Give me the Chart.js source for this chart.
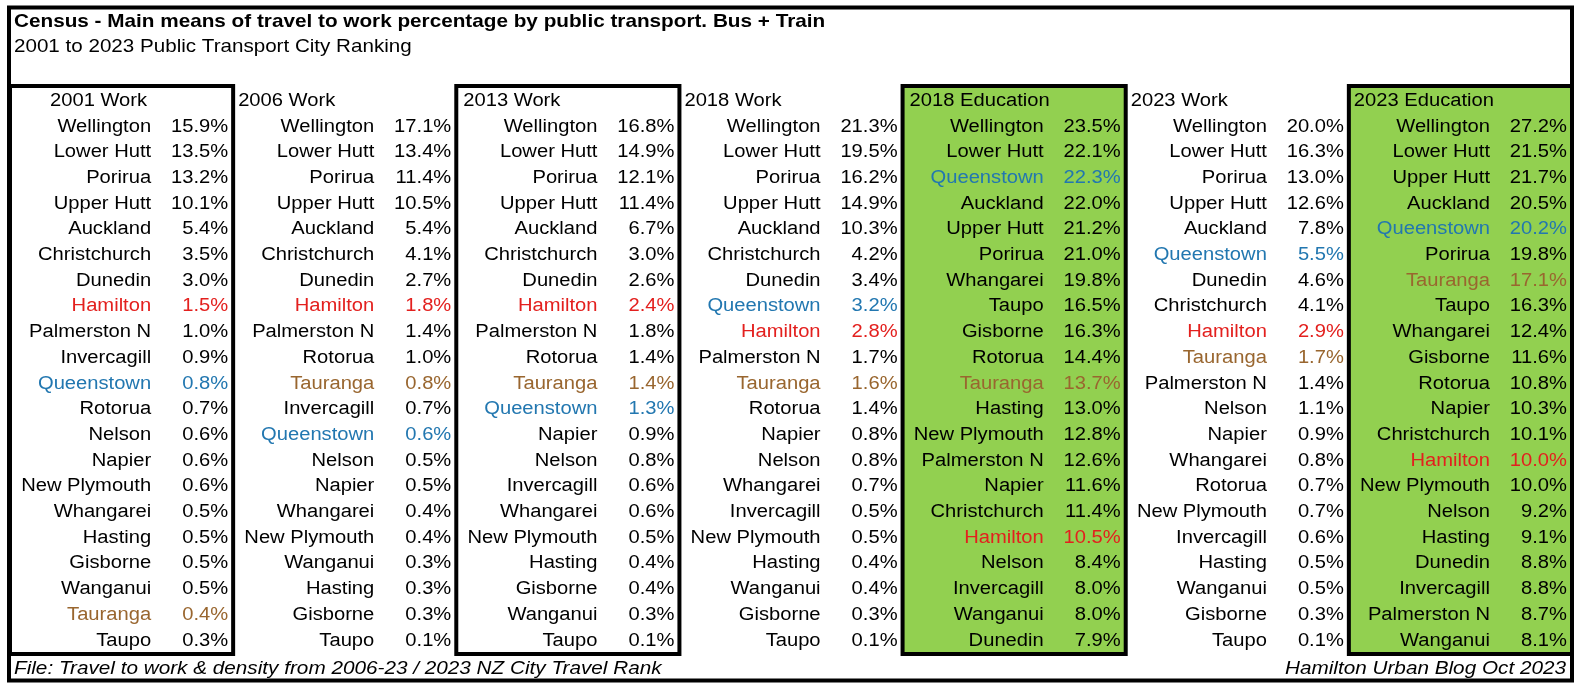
<!DOCTYPE html>
<html>
<head>
<meta charset="utf-8">
<title>Public Transport City Ranking</title>
<script src="https://cdn.jsdelivr.net/npm/chart.js@4.4.0/dist/chart.umd.min.js"></script>
<style>
  html, body { margin: 0; padding: 0; background: #fff; }
  #wrap { width: 1580px; height: 690px; position: relative; }
</style>
</head>
<body>
<div id="wrap"><canvas id="rankChart"></canvas></div>
<script>
// Texts
const chartTitle = 'Census - Main means of travel to work percentage by public transport. Bus + Train';
const chartSubtitle = '2001 to 2023 Public Transport City Ranking';
const footerLeft = 'File: Travel to work & density from 2006-23 / 2023 NZ City Travel Rank';
const footerRight = 'Hamilton Urban Blog Oct 2023';

const columnTitles = ['2001 Work', '2006 Work', '2013 Work', '2018 Work', '2018 Education', '2023 Work', '2023 Education'];

// 2001 Work
const cities2001 = ['Wellington', 'Lower Hutt', 'Porirua', 'Upper Hutt', 'Auckland', 'Christchurch', 'Dunedin', 'Hamilton', 'Palmerston N', 'Invercagill', 'Queenstown', 'Rotorua', 'Nelson', 'Napier', 'New Plymouth', 'Whangarei', 'Hasting', 'Gisborne', 'Wanganui', 'Tauranga', 'Taupo'];
const values2001 = [15.9, 13.5, 13.2, 10.1, 5.4, 3.5, 3.0, 1.5, 1.0, 0.9, 0.8, 0.7, 0.6, 0.6, 0.6, 0.5, 0.5, 0.5, 0.5, 0.4, 0.3];

// 2006 Work
const cities2006 = ['Wellington', 'Lower Hutt', 'Porirua', 'Upper Hutt', 'Auckland', 'Christchurch', 'Dunedin', 'Hamilton', 'Palmerston N', 'Rotorua', 'Tauranga', 'Invercagill', 'Queenstown', 'Nelson', 'Napier', 'Whangarei', 'New Plymouth', 'Wanganui', 'Hasting', 'Gisborne', 'Taupo'];
const values2006 = [17.1, 13.4, 11.4, 10.5, 5.4, 4.1, 2.7, 1.8, 1.4, 1.0, 0.8, 0.7, 0.6, 0.5, 0.5, 0.4, 0.4, 0.3, 0.3, 0.3, 0.1];

// 2013 Work
const cities2013 = ['Wellington', 'Lower Hutt', 'Porirua', 'Upper Hutt', 'Auckland', 'Christchurch', 'Dunedin', 'Hamilton', 'Palmerston N', 'Rotorua', 'Tauranga', 'Queenstown', 'Napier', 'Nelson', 'Invercagill', 'Whangarei', 'New Plymouth', 'Hasting', 'Gisborne', 'Wanganui', 'Taupo'];
const values2013 = [16.8, 14.9, 12.1, 11.4, 6.7, 3.0, 2.6, 2.4, 1.8, 1.4, 1.4, 1.3, 0.9, 0.8, 0.6, 0.6, 0.5, 0.4, 0.4, 0.3, 0.1];

// 2018 Work
const cities2018Work = ['Wellington', 'Lower Hutt', 'Porirua', 'Upper Hutt', 'Auckland', 'Christchurch', 'Dunedin', 'Queenstown', 'Hamilton', 'Palmerston N', 'Tauranga', 'Rotorua', 'Napier', 'Nelson', 'Whangarei', 'Invercagill', 'New Plymouth', 'Hasting', 'Wanganui', 'Gisborne', 'Taupo'];
const values2018Work = [21.3, 19.5, 16.2, 14.9, 10.3, 4.2, 3.4, 3.2, 2.8, 1.7, 1.6, 1.4, 0.8, 0.8, 0.7, 0.5, 0.5, 0.4, 0.4, 0.3, 0.1];

// 2018 Education
const cities2018Edu = ['Wellington', 'Lower Hutt', 'Queenstown', 'Auckland', 'Upper Hutt', 'Porirua', 'Whangarei', 'Taupo', 'Gisborne', 'Rotorua', 'Tauranga', 'Hasting', 'New Plymouth', 'Palmerston N', 'Napier', 'Christchurch', 'Hamilton', 'Nelson', 'Invercagill', 'Wanganui', 'Dunedin'];
const values2018Edu = [23.5, 22.1, 22.3, 22.0, 21.2, 21.0, 19.8, 16.5, 16.3, 14.4, 13.7, 13.0, 12.8, 12.6, 11.6, 11.4, 10.5, 8.4, 8.0, 8.0, 7.9];

// 2023 Work
const cities2023Work = ['Wellington', 'Lower Hutt', 'Porirua', 'Upper Hutt', 'Auckland', 'Queenstown', 'Dunedin', 'Christchurch', 'Hamilton', 'Tauranga', 'Palmerston N', 'Nelson', 'Napier', 'Whangarei', 'Rotorua', 'New Plymouth', 'Invercagill', 'Hasting', 'Wanganui', 'Gisborne', 'Taupo'];
const values2023Work = [20.0, 16.3, 13.0, 12.6, 7.8, 5.5, 4.6, 4.1, 2.9, 1.7, 1.4, 1.1, 0.9, 0.8, 0.7, 0.7, 0.6, 0.5, 0.5, 0.3, 0.1];

// 2023 Education
const cities2023Edu = ['Wellington', 'Lower Hutt', 'Upper Hutt', 'Auckland', 'Queenstown', 'Porirua', 'Tauranga', 'Taupo', 'Whangarei', 'Gisborne', 'Rotorua', 'Napier', 'Christchurch', 'Hamilton', 'New Plymouth', 'Nelson', 'Hasting', 'Dunedin', 'Invercagill', 'Palmerston N', 'Wanganui'];
const values2023Edu = [27.2, 21.5, 21.7, 20.5, 20.2, 19.8, 17.1, 16.3, 12.4, 11.6, 10.8, 10.3, 10.1, 10.0, 10.0, 9.2, 9.1, 8.8, 8.8, 8.7, 8.1];

const columnCities = [cities2001, cities2006, cities2013, cities2018Work, cities2018Edu, cities2023Work, cities2023Edu];
const columnValues = [values2001, values2006, values2013, values2018Work, values2018Edu, values2023Work, values2023Edu];

// colonnes encadrees / surlignees en vert
const boxedColumns = [0, 2, 4, 6];
const greenColumns = [4, 6];

const FONT = '"Liberation Sans", Arial, sans-serif';
const STRETCH = 1.12;
const cityColors = { Hamilton: '#e3201e', Queenstown: '#2277b0', Tauranga: '#99662f' };

function drawText(ctx, txt, x, y, align, font, color) {
  ctx.save();
  ctx.font = font;
  ctx.fillStyle = color;
  ctx.textAlign = align;
  ctx.textBaseline = 'middle';
  ctx.translate(x, y);
  ctx.scale(STRETCH, 1);
  ctx.fillText(txt, 0, 0);
  ctx.restore();
}

const tablePlugin = {
  id: 'censusTable',
  beforeDatasetsDraw(chart) {
    const { ctx, chartArea, scales } = chart;
    ctx.save();
    greenColumns.forEach(c => {
      const l = scales.x.getPixelForValue(c);
      const r = scales.x.getPixelForValue(c + 1);
      ctx.fillStyle = '#92d050';
      ctx.fillRect(l, chartArea.top, r - l, chartArea.bottom - chartArea.top);
    });
    ctx.strokeStyle = '#000';
    ctx.lineWidth = 4;
    boxedColumns.forEach(c => {
      const l = scales.x.getPixelForValue(c);
      const r = scales.x.getPixelForValue(c + 1);
      ctx.strokeRect(l, chartArea.top, r - l, chartArea.bottom - chartArea.top);
    });
    ctx.restore();
  },
  afterDatasetsDraw(chart) {
    const { ctx } = chart;
    const cellFont = '18px ' + FONT;
    const dy = 1.5;
    chart.data.datasets.forEach((ds, di) => {
      const meta = chart.getDatasetMeta(di);
      meta.data.forEach((pt, i) => {
        if (ds.kind === 'header') {
          const off = i === 0 ? 40 : (i === 2 || i === 4 ? 7 : 5);
          drawText(ctx, columnTitles[i], pt.x + off, pt.y + dy, 'left', cellFont, '#000');
        } else {
          const city = columnCities[ds.col][i];
          const color = cityColors[city] || '#000';
          drawText(ctx, city, pt.x - 82, pt.y + dy, 'right', cellFont, color);
          drawText(ctx, columnValues[ds.col][i].toFixed(1) + '%', pt.x - 5, pt.y + dy, 'right', cellFont, color);
        }
      });
    });
  },
  afterDraw(chart) {
    const { ctx, width, height } = chart;
    ctx.save();
    ctx.strokeStyle = '#000';
    ctx.lineWidth = 4;
    ctx.strokeRect(9, 7.5, width - 17, height - 17);
    ctx.restore();
    drawText(ctx, chartTitle, 14, 22, 'left', 'bold 18.5px ' + FONT, '#000');
    drawText(ctx, chartSubtitle, 14, 47, 'left', '18.4px ' + FONT, '#000');
    drawText(ctx, footerLeft, 14, 668.5, 'left', 'italic 18.5px ' + FONT, '#000');
    drawText(ctx, footerRight, width - 14, 668.5, 'right', 'italic 18.5px ' + FONT, '#000');
  }
};

const datasets = [{
  kind: 'header',
  data: columnTitles.map((t, i) => ({ x: i, y: -1 })),
  pointRadius: 0
}].concat(columnCities.map((cities, c) => ({
  kind: 'cell',
  col: c,
  label: columnTitles[c],
  data: cities.map((city, i) => ({ x: c + 1, y: i })),
  pointRadius: 0
})));

new Chart(document.getElementById('rankChart'), {
  type: 'scatter',
  data: { datasets },
  options: {
    responsive: true,
    maintainAspectRatio: false,
    animation: false,
    layout: { padding: { left: 10, right: 8, top: 86, bottom: 36 } },
    scales: {
      x: { type: 'linear', min: 0, max: 7, display: false },
      y: { type: 'linear', min: -1.52, max: 20.58, reverse: true, display: false }
    },
    plugins: {
      legend: { display: false },
      tooltip: { enabled: false }
    },
    events: []
  },
  plugins: [tablePlugin]
});
</script>
</body>
</html>
